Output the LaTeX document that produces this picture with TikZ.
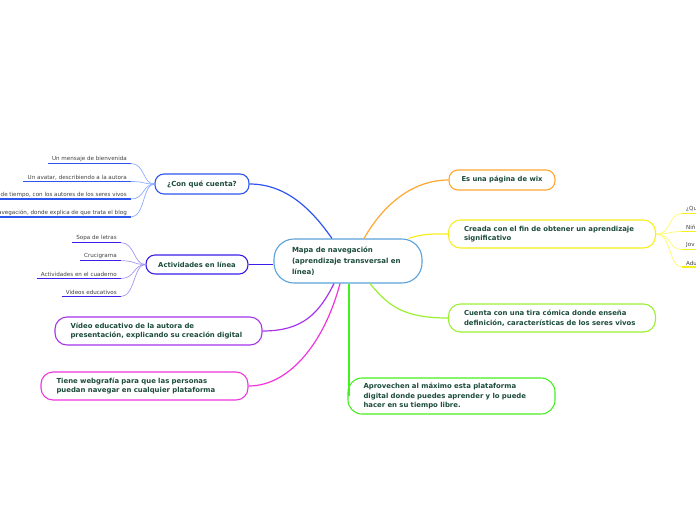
\documentclass[tikz,border=0pt]{standalone}
\usepackage{fontspec}
\setmainfont{DejaVu Sans}
\usetikzlibrary{positioning,calc}

\definecolor{txtgreen}{HTML}{1C4B3C}
\definecolor{mapblue}{HTML}{5AA2DA}
\definecolor{cuentablue}{HTML}{2F55F0}
\definecolor{cuentalight}{HTML}{8FADFF}
\definecolor{activblue}{HTML}{3A1EEA}
\definecolor{activlight}{HTML}{A596F2}
\definecolor{videopurple}{HTML}{A634EC}
\definecolor{webmagenta}{HTML}{F035DC}
\definecolor{wixorange}{HTML}{FFA733}
\definecolor{creadayellow}{HTML}{F7EE1E}
\definecolor{creadalight}{HTML}{FFF86A}
\definecolor{tiralime}{HTML}{9BF032}
\definecolor{aprovgreen}{HTML}{45F020}

\begin{document}
\begin{tikzpicture}[x=1pt,y=-1pt,
    topic/.style={draw=#1, line width=1.1pt, fill=white, rounded corners=9pt,
      text=txtgreen, inner ysep=0pt, font=\fontsize{6.9}{9.5}\selectfont\bfseries},
    bigtopic/.style={topic=#1, rounded corners=12pt, minimum width=207pt,
      minimum height=28pt, text width=176pt, inner xsep=15.5pt, align=left},
    link/.style={draw=#1, line width=1.2pt},
    leaf/.style={text=black!75, inner xsep=4pt, inner ysep=1.5pt,
      font=\fontsize{5.6}{6.5}\selectfont},
    uline/.style={draw=#1, line width=1.5pt}]

    \useasboundingbox (0,0) rectangle (696,520);

    % Central topic
    \node[topic=mapblue, rounded corners=20pt, minimum width=148pt, minimum height=44pt,
      text width=112pt, inner xsep=18pt, align=left,
      font=\fontsize{7}{11}\selectfont\bfseries] (mapa) at (348,261)
      {Mapa de navegación\\(aprendizaje transversal en\\línea)};

    % Left topics
    \node[topic=cuentablue, minimum width=94pt, minimum height=20pt,
      font=\fontsize{7}{9}\selectfont\bfseries] (cuenta) at (202,184) {¿Con qué cuenta?};
    \node[topic=activblue, minimum width=102pt, minimum height=19pt,
      font=\fontsize{6.8}{9}\selectfont\bfseries] (activ) at (197,264.5) {Actividades en línea};
    \node[bigtopic=videopurple] (video) at (158.5,331)
      {Vídeo educativo de la autora de\\presentación, explicando su creación digital};
    \node[bigtopic=webmagenta] (webgr) at (144.5,386)
      {Tiene webgrafía para que las personas\\puedan navegar en cualquier plataforma};

    % Right topics
    \node[topic=wixorange, minimum width=106pt, minimum height=20pt,
      font=\fontsize{6.8}{9}\selectfont\bfseries] (wix) at (502,180) {Es una página de wix};
    \node[bigtopic=creadayellow] (creada) at (552,234)
      {Creada con el fin de obtener un aprendizaje\\significativo};
    \node[bigtopic=tiralime] (tira) at (552,318)
      {Cuenta con una tira cómica donde enseña\\definición, características de los seres vivos};
    \node[bigtopic=aprovgreen, rounded corners=14pt, minimum height=36pt] (aprov) at (451.5,396)
      {Aprovechen al máximo esta plataforma\\digital donde puedes aprender y lo puede\\hacer en su tiempo libre.};

    % Links from the central topic
    \draw[link=cuentablue] (cuenta.east) .. controls +(40,0) and +(-17,-24) .. ([xshift=-16pt]mapa.north);
    \draw[link=wixorange] ([xshift=16pt]mapa.north) .. controls +(20,-35) and +(-35,0) .. (wix.west);
    \draw[link=creadayellow] ([xshift=-14pt]mapa.north east) .. controls +(15,-5) and +(-15,0) .. (creada.west);
    \draw[link=activblue] (activ.east) -- (activ.east -| mapa.west);
    \draw[link=videopurple] ([xshift=-14pt]mapa.south) .. controls +(-15,30) and +(40,0) .. (video.east);
    \draw[link=webmagenta] ([xshift=-8pt]mapa.south) .. controls +(-15,57) and +(42,0) .. (webgr.east);
    \draw[link=aprovgreen, line width=1.4pt] ([xshift=1pt]mapa.south) -- ([xshift=1pt]mapa.south |- aprov.west);
    \draw[link=tiralime] ([xshift=22pt]mapa.south) .. controls +(18,22) and +(-45,0) .. (tira.west);

    % Sub topics of cuenta
    \foreach \n/\y/\t in {c1/163.5/Un mensaje de bienvenida,
        c2/181.5/{Un avatar, describiendo a la autora},
        c3/199/{de tiempo, con los autores de los seres vivos},
        c4/217/{avegación, donde explica de que trata el blog}}{
      \node[leaf, anchor=south east] (\n) at (131,\y) {\t};
      \draw[uline=cuentablue] (\n.south west) -- (\n.south east);
      \draw[link=cuentalight, line width=0.7pt] (\n.south east) .. controls +(14,0) and +(-12,0) .. (cuenta.west);
    }

    % Sub topics of activ
    \foreach \n/\y/\t in {a1/242.7/Sopa de letras, a2/260.7/Crucigrama,
        a3/278.5/Actividades en el cuaderno, a4/296.5/Videos educativos}{
      \node[leaf, anchor=south east] (\n) at (121,\y) {\t};
      \draw[uline=activblue] (\n.south west) -- (\n.south east);
      \draw[link=activlight, line width=0.7pt] (\n.south east) .. controls +(14,0) and +(-12,0) .. (activ.west);
    }

    % Sub topics of creada
    \foreach \n/\y/\t in {r1/213.5/¿Qu, r2/231.5/Niñ, r3/249.5/Jov, r4/267/Adu}{
      \node[leaf, anchor=south west] (\n) at (682,\y) {\t};
      \draw[uline=creadayellow] (\n.south west) -- ([xshift=20pt]\n.south east);
      \draw[link=creadalight, line width=0.7pt] (creada.east) .. controls +(16,0) and +(-14,0) .. (\n.south west);
    }
\end{tikzpicture}
\end{document}
